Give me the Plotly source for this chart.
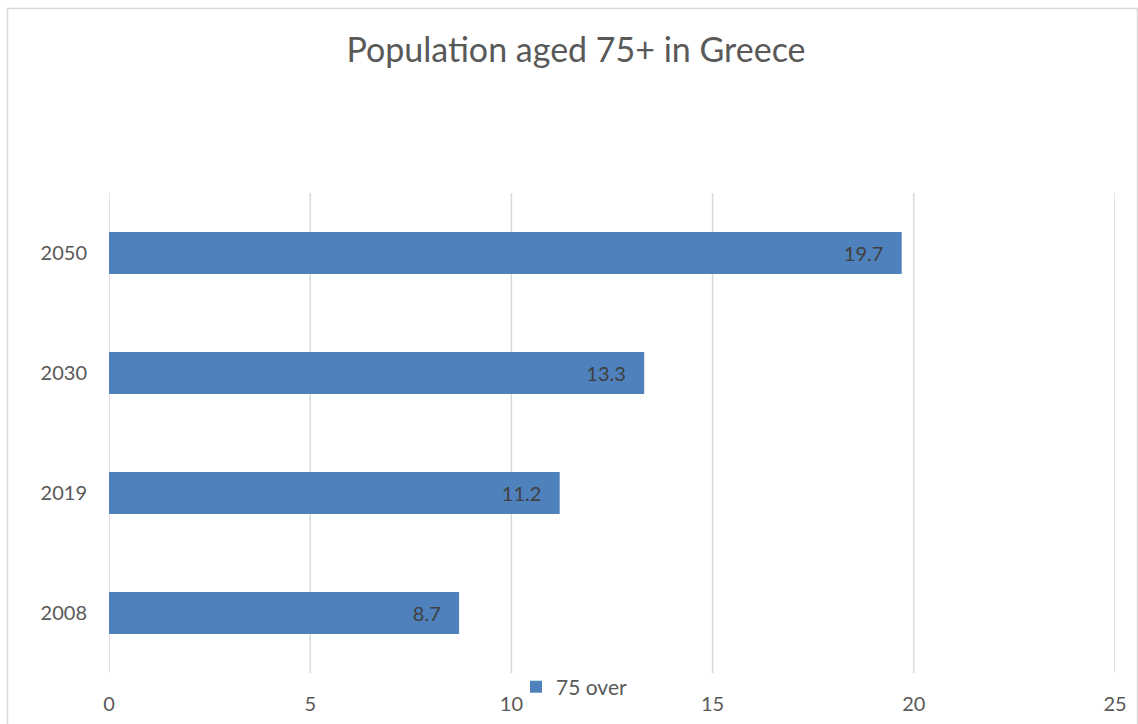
import plotly.graph_objects as go

years = ["2008", "2019", "2030", "2050"]
values = [8.7, 11.2, 13.3, 19.7]
series_name = "75 over"
title_text = "Population aged 75+ in Greece"
x_ticks = [0, 5, 10, 15, 20, 25]

FONT = "Lato, Open Sans, sans-serif"
L, R, T, B = 109, 23, 193, 51
W, H = 1138, 724
pw = W - L - R
ph = H - T - B

def px_x(p):
    return (p - L) / pw

def px_y(p):
    return (H - B - p) / ph

fig = go.Figure()
fig.add_trace(go.Bar(
    y=years, x=values, orientation="h", name=series_name,
    marker=dict(color="#4F81BD", line=dict(width=0)),
    width=0.35,
    text=[f"{v}\u00a0\u00a0\u00a0" for v in values],
    textposition="inside", insidetextanchor="end",
    textfont=dict(family=FONT, size=20, color="#404040"),
    cliponaxis=False,
))

shapes = [dict(type="rect", xref="paper", yref="paper",
               x0=px_x(7.5), x1=px_x(1137.5), y0=px_y(740), y1=px_y(8.5),
               line=dict(color="#D9D9D9", width=1.5), layer="below")]
for t in x_ticks:
    shapes.append(dict(type="line", xref="x", yref="paper", x0=t, x1=t,
                       y0=0, y1=1, line=dict(color="#D9D9D9", width=1.5),
                       layer="below"))

fig.update_layout(
    width=W, height=H,
    margin=dict(l=L, r=R, t=T, b=B, autoexpand=False),
    paper_bgcolor="white", plot_bgcolor="white",
    font=dict(family=FONT, color="#595959"),
    title=dict(text=title_text, x=576 / W, xref="container", xanchor="center",
               y=1 - 50 / H, yanchor="middle",
               font=dict(family=FONT, size=34, color="#595959")),
    xaxis=dict(range=[0, 25], tickvals=x_ticks, showgrid=False,
               zeroline=False, showline=False, automargin=False,
               tickfont=dict(size=20, color="#595959"),
               ticklabelstandoff=17, fixedrange=True),
    yaxis=dict(categoryorder="array", categoryarray=years,
               showgrid=False, zeroline=False, showline=False,
               automargin=False,
               tickfont=dict(size=20, color="#595959"),
               ticklabelstandoff=21),
    showlegend=True,
    legend=dict(orientation="h", x=px_x(516), y=px_y(687),
                xanchor="left", yanchor="middle",
                font=dict(size=21, color="#595959"),
                bgcolor="rgba(0,0,0,0)", itemwidth=30),
    shapes=shapes,
)

fig.write_html("out.html")
